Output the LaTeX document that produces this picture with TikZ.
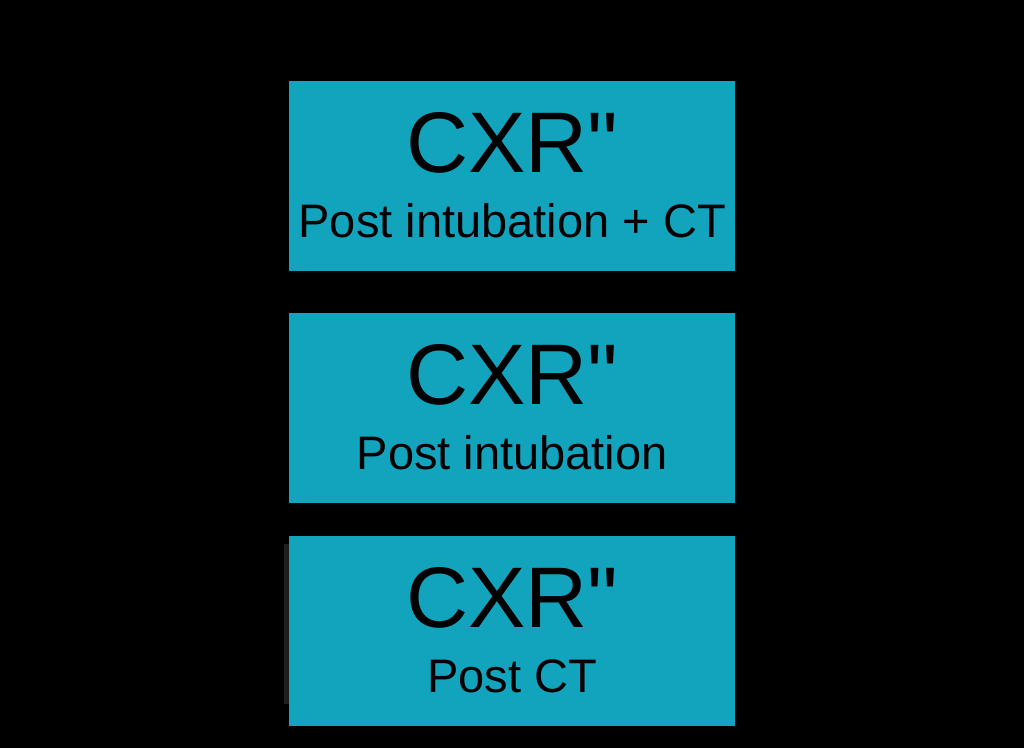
\documentclass[tikz,border=0pt]{standalone}
\usepackage{fontspec}
\setmainfont{Liberation Sans}[Ligatures=TeXOff]
\RequirePackage{xcolor}
\usetikzlibrary{calc}
\usetikzlibrary{positioning}

\definecolor{cxrteal}{HTML}{13A4BD}
\tikzset{
  film/.style={fill=cxrteal, minimum width=446pt, minimum height=190pt, inner sep=0pt, anchor=north west},
  bigtext/.style={font=\fontsize{86}{86}\selectfont, anchor=base, inner sep=0pt},
  smalltext/.style={font=\fontsize{47}{47}\selectfont, anchor=base, inner sep=0pt}
}

\begin{document}
\begin{tikzpicture}[x=1pt,y=-1pt]
  \fill [black] (0,0) rectangle (1024,748);
  \fill [black!88] (284,544) rectangle (289,704);

  \foreach \i/\y/\txt in {1/81/Post intubation + CT, 2/313/Post intubation, 3/536/Post CT} {
    \node [film] at (289,\y) (cxr\i) {};
    \node [bigtext] at ($(cxr\i.north)+(0,91)$) (title\i) {CXR"};
    \node [smalltext] at ($(cxr\i.north)+(0,156)$) (sub\i) {\txt};
  }

\end{tikzpicture}
\end{document}
